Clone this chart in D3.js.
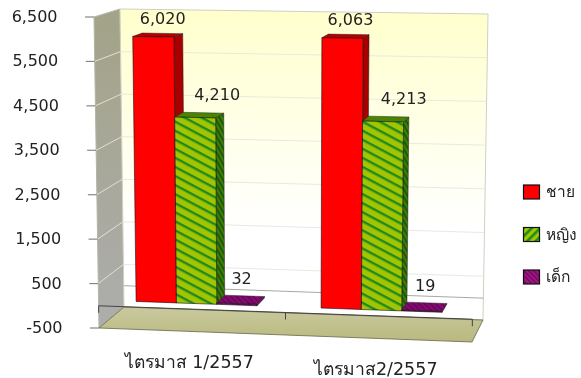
<!DOCTYPE html>
<html>
<head>
<meta charset="utf-8">
<script src="https://cdn.jsdelivr.net/npm/d3@7"></script>
<style>
  html, body { margin: 0; background: #fff; }
  svg { display: block; filter: blur(0.4px); }
  text { font-family: "DejaVu Sans", "Noto Sans", sans-serif; fill: #222; }
</style>
</head>
<body>
<script>
var categories = ["ไตรมาส 1/2557", "ไตรมาส2/2557"]
var seriesNames = ["ชาย", "หญิง", "เด็ก"]
var chai = [6020, 6063]
var ying = [4210, 4213]
var dek = [32, 19]
var tickValues = [-500, 500, 1500, 2500, 3500, 4500, 5500, 6500]

var seriesValues = [chai, ying, dek]
var width = 581, height = 378

var svg = d3.select("body").append("svg")
  .attr("width", width)
  .attr("height", height)

var defs = svg.append("defs")

//stripes and cross hatch for the fills
function stripes(id, bg, fg, angle, size, sw) {
  var p = defs.append("pattern").attr("id", id)
    .attr("patternUnits", "userSpaceOnUse")
    .attr("width", size).attr("height", size)
    .attr("patternTransform", "rotate(" + angle + ")")
  p.append("rect").attr("width", size).attr("height", size).attr("fill", bg)
  p.append("rect").attr("width", size).attr("height", sw).attr("fill", fg)
}
stripes("greenFront", "#a3c400", "#1f8a1f", 28, 8, 2.4)
stripes("greenSide", "#3f7f00", "#14500f", 60, 4, 1.6)
stripes("greenLegend", "#a3c800", "#1f8a1f", -45, 6, 2.6)
stripes("purpleFront", "#6a0670", "#a01050", 45, 4, 1.1)
stripes("purpleLegend", "#7a0a78", "#b0206a", 45, 3.5, 1.2)

function gradient(id, stops, x2, y2) {
  var g = defs.append("linearGradient").attr("id", id)
    .attr("x1", 0).attr("y1", 0).attr("x2", x2).attr("y2", y2)
  stops.forEach(function(s) {
    g.append("stop").attr("offset", s[0]).attr("stop-color", s[1])
  })
}
gradient("wallBack", [[0, "#ffffcc"], [0.7, "#ffffff"], [1, "#ffffff"]], 0, 1)
gradient("wallLeft", [[0, "#a3a388"], [1, "#adadad"]], 0, 1)
gradient("floor", [[0, "#c9c99f"], [1, "#b9b97e"]], 0, 1)

//the box is two planes, u goes along the axis, z goes into the page
var frontPlane = { tl: [94, 17], tr: [477, 23], bl: [99, 328], br: [472, 342] }
var backPlane = { tl: [120, 9], tr: [488, 14], bl: [124, 307], br: [483, 320] }

var yFrac = d3.scaleLinear().domain([-500, 6500]).range([0, 1])
var xBand = d3.scaleBand().domain(categories).range([0, 1])
var xSeries = d3.scaleBand().domain(seriesNames).range([0.083, 0.41])
var zBar = [0.27, 0.65]

function onPlane(pl, u, t, i) {
  var top = pl.tl[i] + (pl.tr[i] - pl.tl[i]) * u
  var bottom = pl.bl[i] + (pl.br[i] - pl.bl[i]) * u
  return bottom + (top - bottom) * t
}
function project(u, value, z) {
  var t = yFrac(value)
  return [0, 1].map(function(i) {
    var f = onPlane(frontPlane, u, t, i)
    return f + (onPlane(backPlane, u, t, i) - f) * z
  })
}
var poly = d3.line().curve(d3.curveLinearClosed)
var line = d3.line()
var fmt = function(d) { return d3.format(",")(d).replace("−", "-") }

//walls and floor
var yMin = tickValues[0], yMax = tickValues[tickValues.length - 1]
svg.append("path")
  .attr("d", poly([project(0, yMax, 0), project(0, yMax, 1), project(0, yMin, 1), project(0, yMin, 0)]))
  .attr("fill", "url(#wallLeft)").attr("stroke", "#b5b5a5")
svg.append("path")
  .attr("d", poly([project(0, yMax, 1), project(1, yMax, 1), project(1, yMin, 1), project(0, yMin, 1)]))
  .attr("fill", "url(#wallBack)").attr("stroke", "#cfcfc4")
svg.append("path")
  .attr("d", poly([project(0, yMin, 0), project(0, yMin, 1), project(1, yMin, 1), project(1, yMin, 0)]))
  .attr("fill", "url(#floor)").attr("stroke", "#66664a").attr("stroke-width", 0.8)

//gridlines
var gridTicks = svg.append("g").selectAll("g")
  .data(tickValues)
  .enter().append("g")
gridTicks.filter(function(d) { return d > yMin && d < yMax }).append("path")
  .attr("d", function(d) { return line([project(0, d, 0), project(0, d, 1), project(1, d, 1)]) })
  .attr("fill", "none").attr("stroke", "#e6e6da").attr("stroke-width", 0.9)
gridTicks.append("path")
  .attr("d", function(d) {
    var p = project(0, d, 0)
    return line([[p[0] - 9, p[1]], p])
  })
  .attr("stroke", "#888").attr("stroke-width", 1.2)
gridTicks.append("text")
  .attr("x", function(d) { return project(0, d, 0)[0] - 36.5 })
  .attr("y", function(d) { return project(0, d, 0)[1] + 5 })
  .attr("text-anchor", "end")
  .attr("font-size", 16)
  .text(fmt)

//zero plane back line and axis
svg.append("path")
  .attr("d", line([project(0, 0, 1), project(1, 0, 1)]))
  .attr("stroke", "#a8a8a0").attr("stroke-width", 1).attr("fill", "none")

//bars
var barStyles = [
  { front: "#ff0000", side: "#a80000", top: "#b80000" },
  { front: "url(#greenFront)", side: "url(#greenSide)", top: "#4a8500" },
  { front: "url(#purpleFront)", side: "#5a0a58", top: "url(#purpleFront)" }
]
var labelDx = [5, 18, 1], labelDy = [-10, -13, -13]

var barData = []
categories.forEach(function(c, ci) {
  seriesNames.forEach(function(s, si) {
    barData.push({ cat: c, name: s, si: si, value: seriesValues[si][ci] })
  })
})

var bars = svg.append("g").selectAll("g")
  .data(barData)
  .enter().append("g")

function corners(d) {
  var u0 = xBand(d.cat) + xSeries(d.name) * xBand.bandwidth() * 2
  var u1 = u0 + xSeries.bandwidth()
  return { u0: u0, u1: u1 }
}
bars.append("path")
  .attr("d", function(d) {
    var c = corners(d)
    return poly([project(c.u1, 0, zBar[0]), project(c.u1, d.value, zBar[0]), project(c.u1, d.value, zBar[1]), project(c.u1, 0, zBar[1])])
  })
  .attr("fill", function(d) { return barStyles[d.si].side })
  .attr("stroke", "#222").attr("stroke-width", 0.5)
bars.append("path")
  .attr("d", function(d) {
    var c = corners(d)
    return poly([project(c.u0, d.value, zBar[0]), project(c.u1, d.value, zBar[0]), project(c.u1, d.value, zBar[1]), project(c.u0, d.value, zBar[1])])
  })
  .attr("fill", function(d) { return barStyles[d.si].top })
  .attr("stroke", "#222").attr("stroke-width", 0.5)
bars.append("path")
  .attr("d", function(d) {
    var c = corners(d)
    return poly([project(c.u0, 0, zBar[0]), project(c.u0, d.value, zBar[0]), project(c.u1, d.value, zBar[0]), project(c.u1, 0, zBar[0])])
  })
  .attr("fill", function(d) { return barStyles[d.si].front })
  .attr("stroke", "#111").attr("stroke-width", 0.6)
bars.append("text")
  .attr("x", function(d) {
    var c = corners(d)
    return (project(c.u0, d.value, zBar[0])[0] + project(c.u1, d.value, zBar[1])[0]) / 2 + labelDx[d.si]
  })
  .attr("y", function(d) { return project(corners(d).u1, d.value, zBar[1])[1] + labelDy[d.si] })
  .attr("text-anchor", "middle")
  .attr("font-size", 16)
  .text(function(d) { return fmt(d.value) })

//x axis on the front plane
svg.append("path")
  .attr("d", line([project(0, 0, 0), project(1, 0, 0)]))
  .attr("stroke", "#444").attr("stroke-width", 1).attr("fill", "none")
svg.append("g").selectAll("path")
  .data([0, 0.5, 1])
  .enter().append("path")
  .attr("d", function(u) {
    var p = project(u, 0, 0)
    return line([p, [p[0], p[1] + 7]])
  })
  .attr("stroke", "#444").attr("stroke-width", 1)

//category labels
svg.append("g").selectAll("text")
  .data(categories)
  .enter().append("text")
  .attr("x", function(d) { return project(xBand(d) + xBand.bandwidth() / 2, yMin, 0)[0] - 3 })
  .attr("y", function(d) { return project(xBand(d) + xBand.bandwidth() / 2, yMin, 0)[1] + 36.5 })
  .attr("text-anchor", "middle")
  .attr("font-size", 17.5)
  .text(function(d) { return d })

//legend
var legendFills = ["#ff0000", "url(#greenLegend)", "url(#purpleLegend)"]
var legendY = d3.scalePoint().domain(seriesNames).range([192, 277])
var legend = svg.append("g").selectAll("g")
  .data(seriesNames)
  .enter().append("g")
  .attr("transform", function(d) { return "translate(523.5," + legendY(d) + ")" })
legend.append("rect")
  .attr("y", -7).attr("width", 16).attr("height", 14)
  .attr("fill", function(d, i) { return legendFills[i] })
  .attr("stroke", "#111").attr("stroke-width", 1.2)
legend.append("text")
  .attr("x", 22.5).attr("y", 5)
  .attr("font-size", 15.5)
  .text(function(d) { return d })
</script>
</body>
</html>
